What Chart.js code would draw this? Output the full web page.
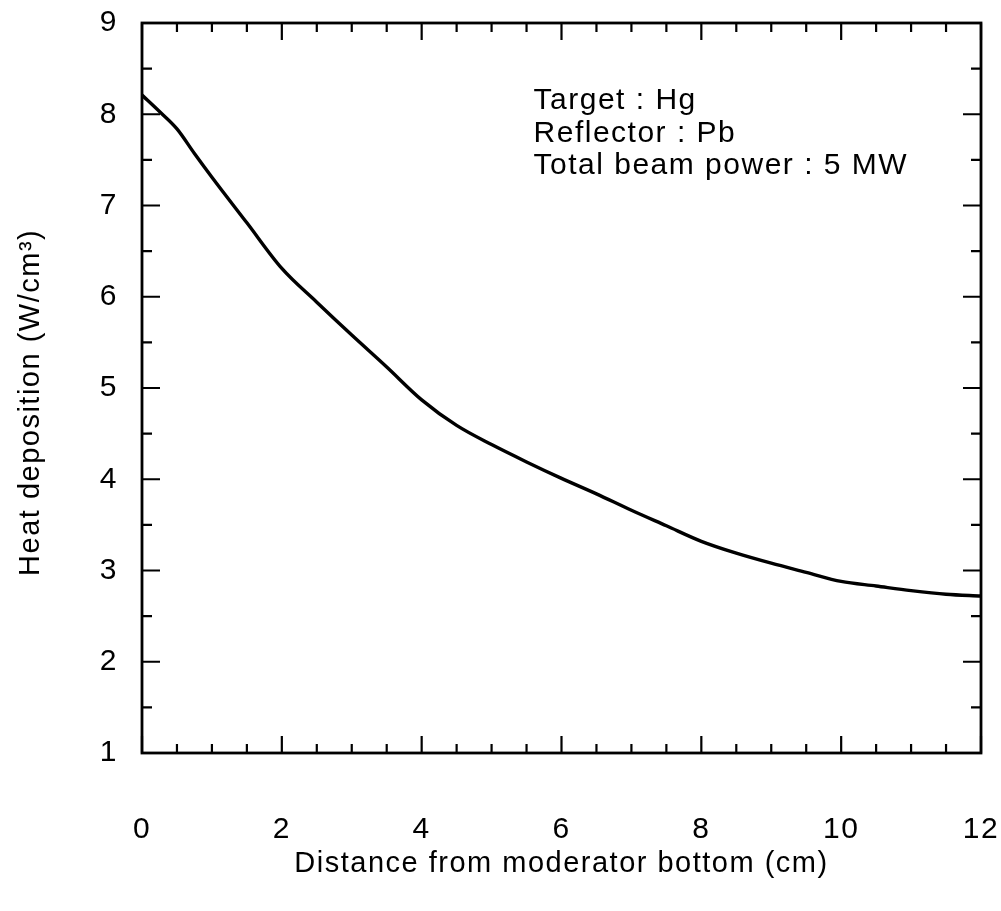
<!DOCTYPE html>
<html>
<head>
<meta charset="utf-8">
<script src="https://cdn.jsdelivr.net/npm/chart.js@4/dist/chart.umd.min.js"></script>
<style>
  html, body { margin: 0; padding: 0; background: #fff; }
  #wrap { width: 1001px; height: 911px; position: relative; }
</style>
</head>
<body>
<div id="wrap"><canvas id="c" width="1001" height="911"></canvas></div>
<script>
// ---- data ----
const distance = [0, 0.25, 0.5, 0.75, 1, 1.5, 2, 2.5, 3, 3.5, 4, 4.5, 5, 5.5, 6, 6.5, 7, 7.5, 8, 8.5, 9, 9.5, 10, 10.5, 11, 11.5, 12];
const heat     = [8.21, 8.03, 7.84, 7.57, 7.31, 6.81, 6.31, 5.94, 5.58, 5.23, 4.87, 4.59, 4.38, 4.19, 4.01, 3.84, 3.66, 3.49, 3.32, 3.19, 3.08, 2.98, 2.88, 2.83, 2.78, 2.74, 2.72];
const xTickLabels = [0, 2, 4, 6, 8, 10, 12];
const yTickLabels = [1, 2, 3, 4, 5, 6, 7, 8, 9];
const annotationLines = ['Target : Hg', 'Reflector : Pb', 'Total beam power : 5 MW'];
const annotationAnchor = [5.60, 8.055];
const xTitle = 'Distance from moderator bottom (cm)';
const yTitle = 'Heat deposition (W/cm\u00B3)';

const FONT = '"Liberation Sans", Arial, Helvetica, sans-serif';
const INK = '#000';

const spacingPlugin = {
  id: 'spacing',
  beforeDraw(chart) { chart.ctx.letterSpacing = '1.5px'; }
};

const framePlugin = {
  id: 'frame',
  afterDraw(chart) {
    const ctx = chart.ctx;
    const a = chart.chartArea;
    const xs = chart.scales.x, ys = chart.scales.y;
    ctx.save();
    ctx.strokeStyle = INK;
    ctx.lineWidth = 2.2;
    ctx.beginPath();
    xs.ticks.forEach(t => {
      const p = xs.getPixelForValue(t.value);
      const len = (Math.abs(t.value % 2) < 1e-9) ? 17 : 9;
      ctx.moveTo(p, a.bottom); ctx.lineTo(p, a.bottom - len);
      ctx.moveTo(p, a.top); ctx.lineTo(p, a.top + len);
    });
    ys.ticks.forEach(t => {
      const p = ys.getPixelForValue(t.value);
      const len = Number.isInteger(t.value) ? 18 : 10;
      ctx.moveTo(a.left, p); ctx.lineTo(a.left + len, p);
      ctx.moveTo(a.right, p); ctx.lineTo(a.right - len, p);
    });
    ctx.stroke();
    ctx.lineWidth = 2.8;
    ctx.strokeRect(a.left, a.top, a.right - a.left, a.bottom - a.top);
    // annotation text
    ctx.fillStyle = INK;
    ctx.font = '30px ' + FONT;
    ctx.textAlign = 'left';
    ctx.textBaseline = 'alphabetic';
    const ax = xs.getPixelForValue(annotationAnchor[0]);
    const ay = ys.getPixelForValue(annotationAnchor[1]);
    annotationLines.forEach((s, i) => ctx.fillText(s, ax, ay + i * 32.6));
    ctx.restore();
  }
};

new Chart(document.getElementById('c'), {
  type: 'line',
  data: {
    datasets: [{
      data: distance.map((d, i) => ({ x: d, y: heat[i] })),
      borderColor: INK,
      borderWidth: 3.4,
      pointRadius: 0,
      fill: false,
      cubicInterpolationMode: 'monotone'
    }]
  },
  options: {
    responsive: false,
    animation: false,
    events: [],
    layout: { padding: { top: 23, right: 20, left: 0, bottom: 0 } },
    plugins: { legend: { display: false }, tooltip: { enabled: false } },
    scales: {
      x: {
        type: 'linear', min: 0, max: 12,
        grid: { display: false, drawTicks: false },
        border: { display: false },
        ticks: {
          stepSize: 0.5, autoSkip: false, maxRotation: 0, padding: 59,
          color: INK, font: { family: FONT, size: 30 },
          callback: v => xTickLabels.includes(v) ? String(v) : ''
        },
        title: { display: true, text: xTitle, color: INK, font: { family: FONT, size: 29 }, padding: { top: 0, bottom: 30 } },
        afterFit: s => { s.height = 158; s.paddingLeft = 0; s.paddingRight = 0; }
      },
      y: {
        type: 'linear', min: 1, max: 9,
        grid: { display: false, drawTicks: false },
        border: { display: false },
        ticks: {
          stepSize: 0.5, autoSkip: false, padding: 24,
          color: INK, font: { family: FONT, size: 30 },
          callback: v => yTickLabels.includes(v) ? String(v) : ''
        },
        title: { display: true, text: yTitle + '   ', color: INK, font: { family: FONT, size: 29 }, padding: { top: 14, bottom: 0 } },
        afterFit: s => { s.width = 142; s.paddingTop = 0; s.paddingBottom = 0; }
      }
    }
  },
  plugins: [spacingPlugin, framePlugin]
});
</script>
</body>
</html>
